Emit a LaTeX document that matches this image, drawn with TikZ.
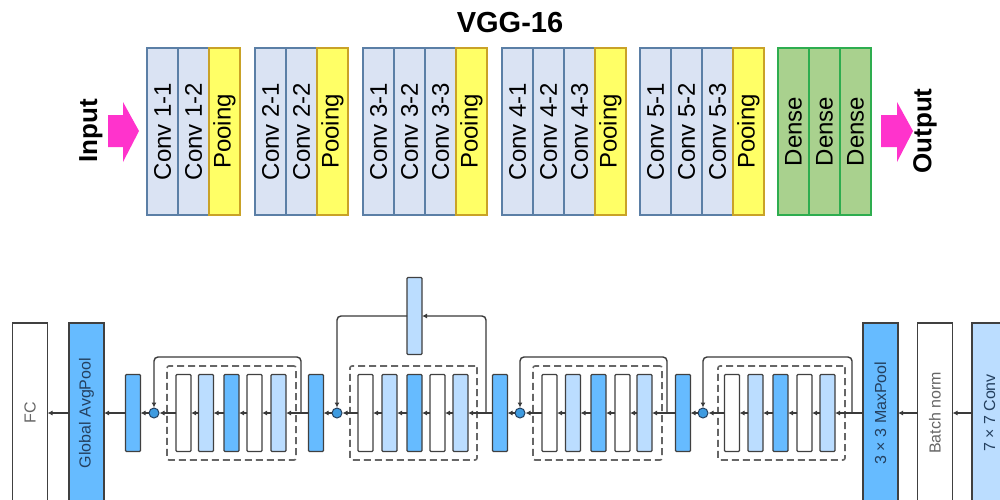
\documentclass[tikz,border=0pt]{standalone}
\usepackage{fontspec}
\setmainfont{Liberation Sans}
\usetikzlibrary{arrows.meta}
\definecolor{convfill}{HTML}{DAE3F3}
\definecolor{convdraw}{HTML}{5B7FA6}
\definecolor{poolfill}{HTML}{FFFF66}
\definecolor{pooldraw}{HTML}{C9A227}
\definecolor{densefill}{HTML}{A9D18E}
\definecolor{densedraw}{HTML}{2EAD4F}
\definecolor{arrowpink}{HTML}{FF33CC}
\definecolor{rblue}{HTML}{66BBFF}
\definecolor{rlight}{HTML}{BBDDFF}
\definecolor{rdark}{HTML}{3A3A3A}
\definecolor{rtext}{HTML}{24405F}
\definecolor{sumfill}{HTML}{3E9BE0}
\begin{document}
\begin{tikzpicture}[x=1pt,y=-1pt,
  vbox/.style={draw, line width=1.3pt, rotate=90, minimum width=167pt, minimum height=31pt,
    inner sep=0pt, outer sep=0pt, font=\fontsize{24}{28}\selectfont},
  conv/.style={vbox, fill=convfill, draw=convdraw},
  pool/.style={vbox, fill=poolfill, draw=pooldraw},
  dense/.style={vbox, fill=densefill, draw=densedraw},
  sidelbl/.style={rotate=90, font=\bfseries\fontsize{26}{30}\selectfont},
  bar/.style={draw=black!75, line width=1.2pt, minimum width=15pt, minimum height=77pt,
    inner sep=0pt, outer sep=0pt, rounded corners=1pt},
  wbar/.style={bar, fill=white},
  lbar/.style={bar, fill=rlight},
  bbar/.style={bar, fill=rblue},
  big/.style={draw=black!75, line width=1.5pt, minimum width=35pt, minimum height=180pt,
    inner sep=0pt, outer sep=0pt},
  blbl/.style={rotate=90, font=\fontsize{16}{18}\selectfont},
  sumnode/.style={circle, draw=rtext, fill=sumfill, minimum size=10pt, inner sep=0pt, line width=1pt},
  flow/.style={draw=rdark, line width=1.4pt, -{Latex[length=5pt,width=5pt]}},
  skip/.style={flow, rounded corners=4pt},
  dbox/.style={draw=black!60, dash pattern=on 7pt off 4pt, line width=1.6pt, rounded corners=2pt,
    inner sep=0pt, outer sep=0pt}
]
\useasboundingbox (0,0) rectangle (1000,499);
\clip (0,0) rectangle (1000,499);
\fill[white] (0,0) rectangle (1000,499);

% ---------------- VGG-16 ----------------
\node[font=\bfseries\fontsize{29}{34}\selectfont] (title) at (510,23) {VGG-16};

\node[sidelbl] (inp) at (91,131) {Input};
\fill[arrowpink] (108,115) -- (123,115) -- (123,102) -- (139,131) -- (123,162) -- (123,147) -- (108,147) -- cycle;

\node[conv] (c11) at (162.5,131.5) {Conv 1-1};
\node[conv] (c12) at (193.5,131.5) {Conv 1-2};
\node[pool] (p1)  at (224.5,131.5) {Pooing};

\node[conv] (c21) at (270.5,131.5) {Conv 2-1};
\node[conv] (c22) at (301.5,131.5) {Conv 2-2};
\node[pool] (p2)  at (332.5,131.5) {Pooing};

\node[conv] (c31) at (378.5,131.5) {Conv 3-1};
\node[conv] (c32) at (409.5,131.5) {Conv 3-2};
\node[conv] (c33) at (440.5,131.5) {Conv 3-3};
\node[pool] (p3)  at (471.5,131.5) {Pooing};

\node[conv] (c41) at (517.5,131.5) {Conv 4-1};
\node[conv] (c42) at (548.5,131.5) {Conv 4-2};
\node[conv] (c43) at (579.5,131.5) {Conv 4-3};
\node[pool] (p4)  at (610.5,131.5) {Pooing};

\node[conv] (c51) at (655.5,131.5) {Conv 5-1};
\node[conv] (c52) at (686.5,131.5) {Conv 5-2};
\node[conv] (c53) at (717.5,131.5) {Conv 5-3};
\node[pool] (p5)  at (748.5,131.5) {Pooing};

\node[dense] (d1) at (793.5,131.5) {Dense};
\node[dense] (d2) at (824.5,131.5) {Dense};
\node[dense] (d3) at (855.5,131.5) {Dense};

\fill[arrowpink] (881,115) -- (897,115) -- (897,102) -- (913,131) -- (897,162) -- (897,147) -- (881,147) -- cycle;
\node[sidelbl] (outp) at (925,131) {Output};

% ---------------- ResNet ----------------
\node[big, fill=white] (fc) at (30,413) {};
\node[blbl, text=black!60] at (fc) {FC};
\node[big, fill=rblue] (gap) at (86.5,413) {};
\node[blbl, text=rtext] at (gap) {Global AvgPool};

\node[bbar] (ba) at (133,413) {};
\node[sumnode] (s1) at (154,413) {};
\node[dbox, minimum width=129pt, minimum height=94pt] (db1) at (231.5,413) {};
\node[wbar] (a1) at (183.5,413) {};
\node[lbar] (a2) at (206,413) {};
\node[bbar] (a3) at (231.5,413) {};
\node[wbar] (a4) at (254.5,413) {};
\node[lbar] (a5) at (278.5,413) {};
\coordinate (k1) at (301,413);

\node[bbar] (bb) at (316,413) {};
\node[sumnode] (s2) at (337,413) {};
\node[dbox, minimum width=127pt, minimum height=94pt] (db2) at (413.5,413) {};
\node[wbar] (b1) at (365.5,413) {};
\node[lbar] (b2) at (389.5,413) {};
\node[bbar] (b3) at (414.5,413) {};
\node[wbar] (b4) at (437.5,413) {};
\node[lbar] (b5) at (460.5,413) {};
\coordinate (k2) at (486,413);
\node[lbar] (proj) at (414.5,316) {};

\node[bbar] (bc) at (500,413) {};
\node[sumnode] (s3) at (520,413) {};
\node[dbox, minimum width=129pt, minimum height=94pt] (db3) at (597.5,413) {};
\node[wbar] (e1) at (549.5,413) {};
\node[lbar] (e2) at (573,413) {};
\node[bbar] (e3) at (598.5,413) {};
\node[wbar] (e4) at (622.5,413) {};
\node[lbar] (e5) at (644.5,413) {};
\coordinate (k3) at (667,413);

\node[bbar] (bd) at (683,413) {};
\node[sumnode] (s4) at (703,413) {};
\node[dbox, minimum width=127pt, minimum height=94pt] (db4) at (781.5,413) {};
\node[wbar] (f1) at (732,413) {};
\node[lbar] (f2) at (755.5,413) {};
\node[bbar] (f3) at (780.5,413) {};
\node[wbar] (f4) at (804.5,413) {};
\node[lbar] (f5) at (827.5,413) {};
\coordinate (k4) at (852,413);

\node[big, fill=rblue] (mp) at (880.5,413) {};
\node[blbl, text=rtext] at (mp) {3 × 3 MaxPool};
\node[big, fill=white] (bn) at (935,413) {};
\node[blbl, text=black!60] at (bn) {Batch norm};
\node[big, fill=rlight] (c7) at (989.5,413) {};
\node[blbl, text=rtext] at (c7) {7 × 7 Conv};

% main flow (right to left)
\draw[flow] (c7.west) -- (bn.east);
\draw[flow] (bn.west) -- (mp.east);
\draw[flow] (mp.west) -- (f5.east);
\draw[flow] (f5.west) -- (f4.east);
\draw[flow] (f4.west) -- (f3.east);
\draw[flow] (f3.west) -- (f2.east);
\draw[flow] (f2.west) -- (f1.east);
\draw[flow] (f1.west) -- (s4.east);
\draw[flow] (s4.west) -- (bd.east);
\draw[flow] (bd.west) -- (e5.east);
\draw[flow] (e5.west) -- (e4.east);
\draw[flow] (e4.west) -- (e3.east);
\draw[flow] (e3.west) -- (e2.east);
\draw[flow] (e2.west) -- (e1.east);
\draw[flow] (e1.west) -- (s3.east);
\draw[flow] (s3.west) -- (bc.east);
\draw[flow] (bc.west) -- (b5.east);
\draw[flow] (b5.west) -- (b4.east);
\draw[flow] (b4.west) -- (b3.east);
\draw[flow] (b3.west) -- (b2.east);
\draw[flow] (b2.west) -- (b1.east);
\draw[flow] (b1.west) -- (s2.east);
\draw[flow] (s2.west) -- (bb.east);
\draw[flow] (bb.west) -- (a5.east);
\draw[flow] (a5.west) -- (a4.east);
\draw[flow] (a4.west) -- (a3.east);
\draw[flow] (a3.west) -- (a2.east);
\draw[flow] (a2.west) -- (a1.east);
\draw[flow] (a1.west) -- (s1.east);
\draw[flow] (s1.west) -- (ba.east);
\draw[flow] (ba.west) -- (gap.east);
\draw[flow] (gap.west) -- (fc.east);

% skip connections
\draw[skip] (k1) -- ++(0,-56) -| (s1.north);
\draw[skip] (k2) |- (proj.east);
\draw[skip] (proj.west) -| (s2.north);
\draw[skip] (k3) -- ++(0,-56) -| (s3.north);
\draw[skip] (k4) -- ++(0,-56) -| (s4.north);
\end{tikzpicture}
\end{document}
